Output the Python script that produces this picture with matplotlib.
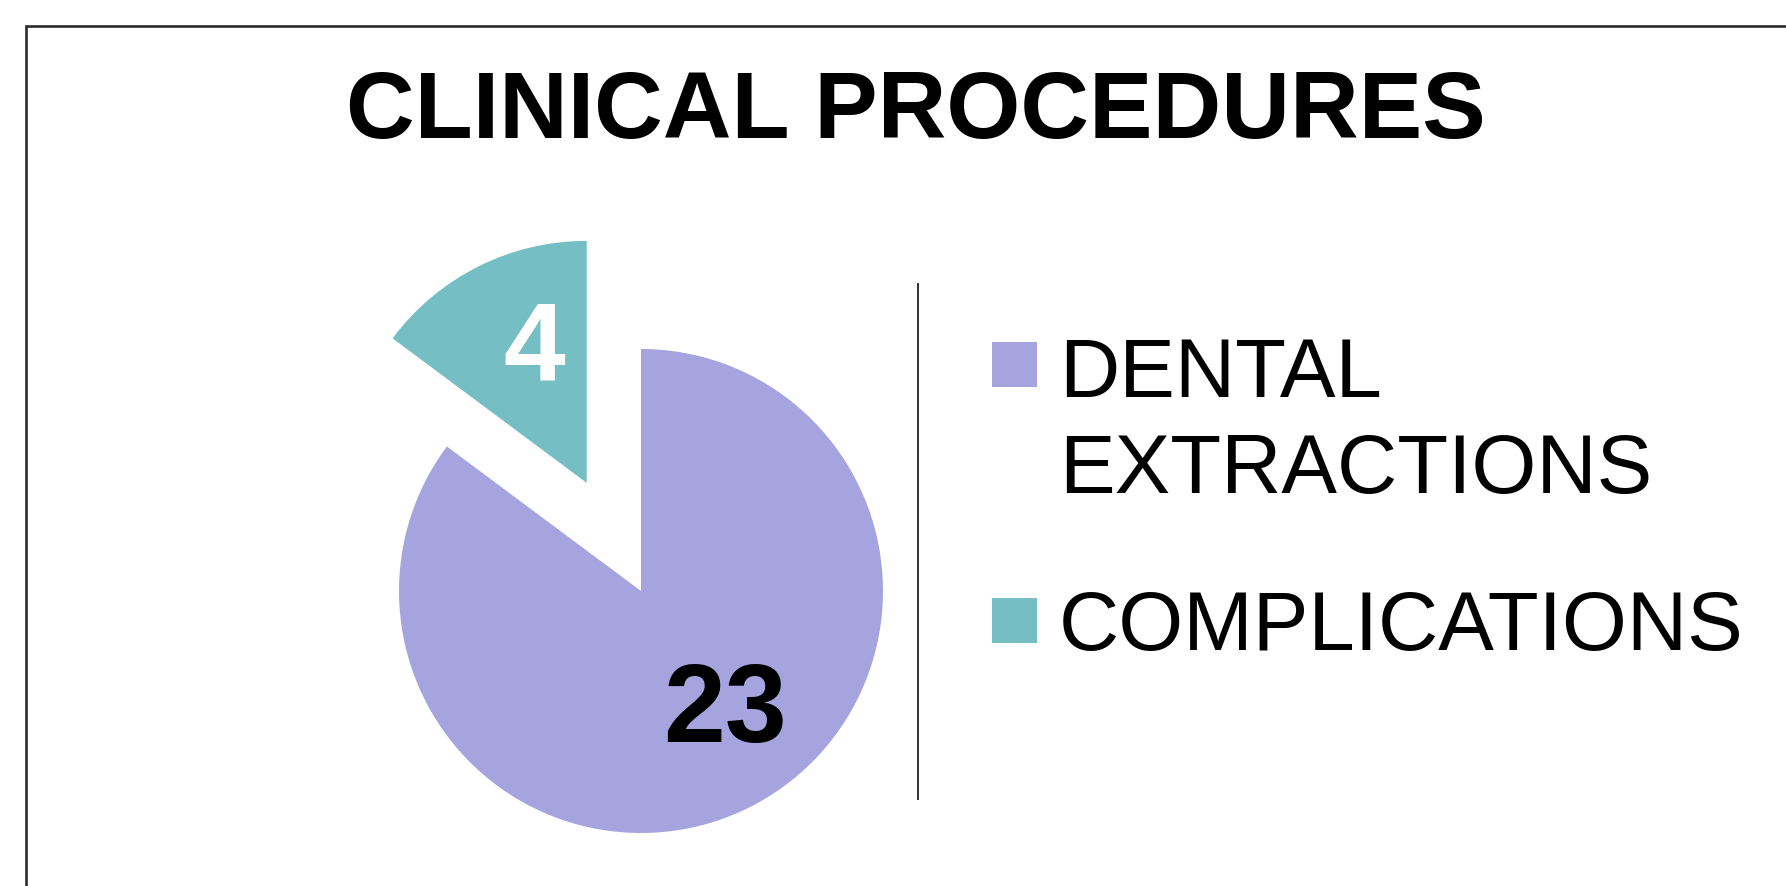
import numpy as np
import matplotlib
matplotlib.use("Agg")
import matplotlib.pyplot as plt
from matplotlib.patches import Rectangle
from matplotlib.lines import Line2D

# ---- data ----
title = "CLINICAL PROCEDURES"
categories = ["DENTAL\nEXTRACTIONS", "COMPLICATIONS"]
values = [23, 4]
colors = ["#A5A4DE", "#74BEC4"]
explode = [0.0, 0.5]
label_colors = ["black", "white"]

W, H = 1786, 887
DPI = 100
plt.rcParams['font.family'] = ['Liberation Sans', 'DejaVu Sans']

fig = plt.figure(figsize=(W / DPI, H / DPI), dpi=DPI)
fig.patch.set_facecolor("white")

R = 242.0  # pixels per data unit (pie radius)
ax = fig.add_axes([0, 0, 1, 1])
cx, cy = 641 / R, (H - 592) / R
wedges, _ = ax.pie(values, colors=colors, explode=explode, startangle=90,
                   counterclock=False, radius=1.0, center=(cx, cy),
                   wedgeprops=dict(linewidth=0))
ax.set_xlim(0, W / R)
ax.set_ylim(0, H / R)
ax.set_aspect('auto')
ax.axis('off')

# value labels placed relative to each wedge
label_r = [0.609, 0.587]
label_dtheta = [8.1, -5.2]
for w, v, lc, lr, dth in zip(wedges, values, label_colors, label_r, label_dtheta):
    mid = np.deg2rad(0.5 * (w.theta1 + w.theta2) + dth)
    x0, y0 = w.center
    ax.text(x0 + lr * np.cos(mid), y0 + lr * np.sin(mid), str(v),
            ha='center', va='center', fontsize=80, fontweight='bold', color=lc)

# title
fig.text(916 / W, 1 - 138 / H, title, ha='center', va='baseline',
         fontsize=68.5, fontweight='bold', color='black')

# outer border (extends beyond right/bottom edge)
fig.add_artist(Rectangle((26 / W, -0.1), 2.0, 1 - 27 / H + 0.1,
                         transform=fig.transFigure, fill=False,
                         edgecolor='#2a2a2a', linewidth=1.9))

# separator line
fig.add_artist(Line2D([918 / W, 918 / W], [1 - 285 / H, 1 - 800 / H],
                      transform=fig.transFigure, color='#333333', linewidth=1.4))

# legend (manual)
sq_tops = [343, 599]
first_baselines = [397, 650]
line_step = 96
for cat, col, top, bl in zip(categories, colors, sq_tops, first_baselines):
    fig.add_artist(Rectangle((992 / W, 1 - (top + 45) / H), 45 / W, 45 / H,
                             transform=fig.transFigure, facecolor=col,
                             edgecolor='none'))
    for k, line in enumerate(cat.split("\n")):
        fig.text(1059 / W, 1 - (bl + k * line_step) / H, line, ha='left',
                 va='baseline', fontsize=60, color='black')

fig.savefig("out.png", dpi=DPI, facecolor='white')
